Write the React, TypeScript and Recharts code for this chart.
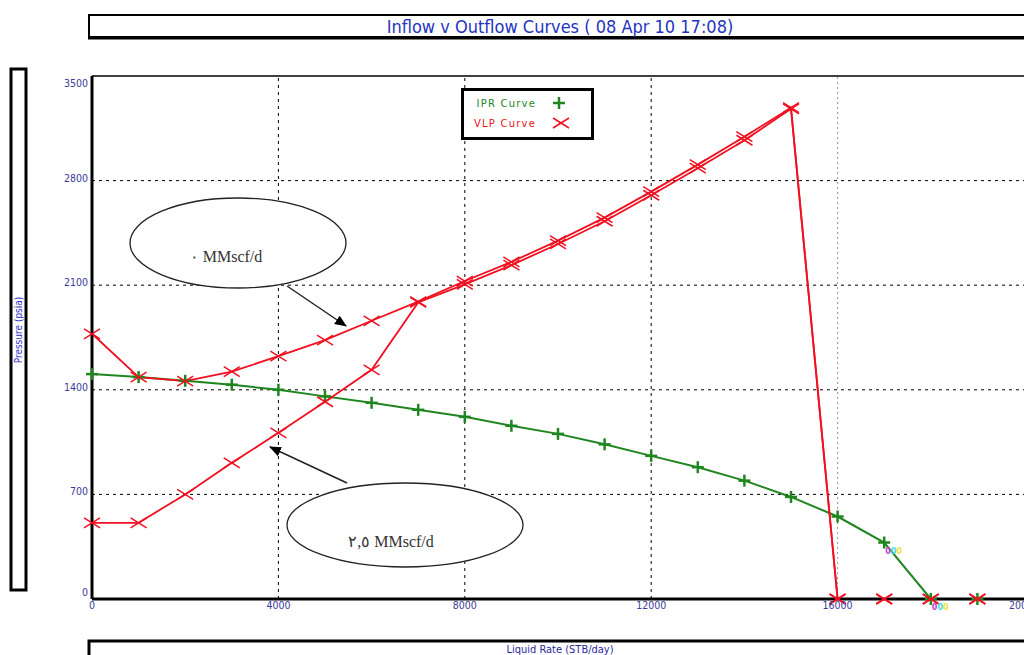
import { LineChart, Line, XAxis, YAxis, ReferenceLine, Legend, LabelList } from 'recharts';

const rates = [0, 1000, 2000, 3000, 4000, 5000, 6000, 7000, 8000, 9000, 10000, 11000, 12000, 13000, 14000, 15000, 16000, 17000, 18000, 19000];
const iprPressure = [1505, 1485, 1460, 1434, 1400, 1356, 1313, 1266, 1219, 1159, 1105, 1035, 958, 882, 792, 683, 552, 378, 0, 0];
const vlpNoGas = [1775, 1485, 1458, 1521, 1625, 1732, 1862, 1990, 2128, 2256, 2398, 2552, 2726, 2907, 3094, 3288, 0, 0, 0, 0];
const vlpGas25 = [510, 510, 700, 911, 1112, 1320, 1534, 1985, 2106, 2234, 2376, 2528, 2702, 2883, 3070, 3280, 0, 0, 0, 0];

const xTicks = [0, 4000, 8000, 12000, 16000, 20000];
const yTicks = [0, 700, 1400, 2100, 2800, 3500];
const xGrid = [4000, 8000, 12000];
const yGrid = [700, 1400, 2100, 2800];

const data = rates.map((r, i) => ({ rate: r, ipr: iprPressure[i], vlp0: vlpNoGas[i], vlp25: vlpGas25[i] }));

const GREEN = '#1f861f';
const RED = '#f01020';
const TICK = '#3a3a9c';
const NARROW = "'Liberation Sans Narrow', 'DejaVu Sans Condensed', 'Liberation Sans', sans-serif";

const PlusDot = (props: any) => {
  const { cx, cy, index } = props;
  if (cx == null || cy == null) return <g key={`p-${index}`} />;
  return (
    <g key={`p-${index}`}>
      <line x1={cx - 6} y1={cy} x2={cx + 6} y2={cy} stroke={GREEN} strokeWidth={2.5} />
      <line x1={cx} y1={cy - 6} x2={cx} y2={cy + 6} stroke={GREEN} strokeWidth={2.5} />
    </g>
  );
};

const CrossDot = (props: any) => {
  const { cx, cy, index } = props;
  if (cx == null || cy == null) return <g key={`x-${index}`} />;
  return (
    <g key={`x-${index}`}>
      <line x1={cx - 8} y1={cy - 5} x2={cx + 8} y2={cy + 5} stroke={RED} strokeWidth={1.5} />
      <line x1={cx - 8} y1={cy + 5} x2={cx + 8} y2={cy - 5} stroke={RED} strokeWidth={1.5} />
    </g>
  );
};

const YTick = (props: any) => {
  const { x, y, payload } = props;
  const v = payload.value;
  const dy = v === 3500 ? 8 : v === 0 ? -6 : -2;
  return (
    <text x={x} y={y + dy} textAnchor="end" dominantBaseline="middle" fill={TICK} fontSize={10.5} fontFamily={NARROW}>
      {v}
    </text>
  );
};

const XTick = (props: any) => {
  const { x, y, payload } = props;
  return (
    <text x={x} y={y + 8} textAnchor="middle" fill={TICK} fontSize={10.5} fontFamily={NARROW}>
      {payload.value}
    </text>
  );
};

// little multicolour tags next to the operating points
const PointTag = (props: any) => {
  const { x, y, index } = props;
  if (index !== 17 && index !== 18) return null;
  return (
    <text x={x + 1} y={y + 11} fontSize={8} fontFamily="DejaVu Sans" fontWeight="bold">
      <tspan fill="#c040d0">0</tspan>
      <tspan fill="#40d8e8">0</tspan>
      <tspan fill="#f0e040">0</tspan>
    </text>
  );
};

const LegendBox = () => (
  <div style={{ width: 133, height: 52, boxSizing: 'border-box', border: '3px solid #000', background: '#fff' }}>
    <svg width={127} height={46}>
      <text x={72} y={15.5} textAnchor="end" fill={GREEN} fontSize={10} fontFamily="DejaVu Sans" letterSpacing={1.2}>IPR Curve</text>
      <line x1={89} y1={12} x2={101} y2={12} stroke={GREEN} strokeWidth={2.5} />
      <line x1={95} y1={6} x2={95} y2={18} stroke={GREEN} strokeWidth={2.5} />
      <text x={72} y={35.5} textAnchor="end" fill={RED} fontSize={10} fontFamily="DejaVu Sans" letterSpacing={1.2}>VLP Curve</text>
      <line x1={89} y1={27} x2={105} y2={37} stroke={RED} strokeWidth={1.5} />
      <line x1={89} y1={37} x2={105} y2={27} stroke={RED} strokeWidth={1.5} />
    </svg>
  </div>
);

export default function App() {
  return (
    <div style={{ position: 'absolute', left: 0, top: 0, width: 1024, height: 655, overflow: 'hidden', background: '#fff' }}>
      <LineChart width={1070} height={655} data={data} margin={{ top: 76, right: 46, bottom: 36, left: 52 }}>
        {xGrid.map((v) => (
          <ReferenceLine key={`vx-${v}`} x={v} stroke="#000" strokeDasharray="3 4" strokeWidth={1} />
        ))}
        <ReferenceLine x={16000} stroke="#9a9a9a" strokeDasharray="2 3" strokeWidth={1} />
        {yGrid.map((v) => (
          <ReferenceLine key={`hy-${v}`} y={v} stroke="#000" strokeDasharray="3 4" strokeWidth={1} />
        ))}
        <ReferenceLine y={3500} stroke="#000" strokeWidth={1.5} />
        <XAxis
          dataKey="rate"
          type="number"
          domain={[0, 20000]}
          ticks={xTicks}
          height={20}
          tickLine={false}
          tickSize={0}
          tick={<XTick />}
          axisLine={{ stroke: '#000', strokeWidth: 3 }}
          interval={0}
        />
        <YAxis
          type="number"
          domain={[0, 3500]}
          ticks={yTicks}
          width={40}
          tickLine={false}
          tickSize={0}
          tickMargin={4}
          tick={<YTick />}
          axisLine={{ stroke: '#000', strokeWidth: 3 }}
          interval={0}
        />
        <Legend layout="vertical" align="center" verticalAlign="middle" wrapperStyle={{ left: 461, top: 88, width: 133 }} content={() => <LegendBox />} />
        <Line type="linear" dataKey="ipr" name="IPR Curve" stroke={GREEN} strokeWidth={2} dot={PlusDot} isAnimationActive={false}>
          <LabelList dataKey="ipr" content={<PointTag />} />
        </Line>
        <Line type="linear" dataKey="vlp0" name="VLP Curve" stroke={RED} strokeWidth={1.8} dot={CrossDot} isAnimationActive={false} />
        <Line type="linear" dataKey="vlp25" name="VLP Curve 2.5" legendType="none" stroke={RED} strokeWidth={1.8} dot={CrossDot} isAnimationActive={false} />
      </LineChart>

      <svg width={1024} height={655} style={{ position: 'absolute', left: 0, top: 0, pointerEvents: 'none' }}>
        <defs>
          <marker id="head" markerWidth={12} markerHeight={10} refX={11} refY={5} orient="auto" markerUnits="userSpaceOnUse">
            <path d="M0,0 L12,5 L0,10 Z" fill="#000" />
          </marker>
        </defs>
        {/* title box */}
        <rect x={89} y={15} width={960} height={22} fill="#fff" stroke="#000" strokeWidth={2} />
        <line x1={88} y1={38} x2={1024} y2={38} stroke="#000" strokeWidth={3} />
        <text x={560} y={33} textAnchor="middle" fill="#2434c0" fontSize={18} fontFamily={NARROW}>
          Inflow v Outflow Curves ( 08 Apr 10  17:08)
        </text>
        {/* y label box */}
        <rect x={11} y={69} width={15} height={521} fill="#fff" stroke="#000" strokeWidth={3} />
        <text x={0} y={0} transform="translate(22,330) rotate(-90)" textAnchor="middle" fill="#3030cc" fontSize={10} fontFamily={NARROW}>
          Pressure (psia)
        </text>
        {/* x label box */}
        <rect x={89} y={641} width={960} height={30} fill="#fff" stroke="#000" strokeWidth={3} />
        <text x={560} y={653} textAnchor="middle" fill="#2a2a9a" fontSize={11} fontFamily={NARROW}>
          Liquid Rate (STB/day)
        </text>
        {/* annotations */}
        <ellipse cx={238} cy={243} rx={108} ry={45} fill="#fff" stroke="#222" strokeWidth={1.3} />
        <text x={226} y={262} textAnchor="middle" fill="#333" fontSize={16} fontFamily="'Liberation Serif', 'DejaVu Serif', serif">
          ٠ MMscf/d
        </text>
        <line x1={287} y1={286} x2={346} y2={326} stroke="#222" strokeWidth={1.5} markerEnd="url(#head)" />
        <ellipse cx={405} cy={525} rx={118} ry={42} fill="#fff" stroke="#222" strokeWidth={1.3} />
        <text x={391} y={547} textAnchor="middle" fill="#333" fontSize={16} fontFamily="'Liberation Serif', 'DejaVu Serif', serif">
          ٢,٥ MMscf/d
        </text>
        <line x1={347} y1={483} x2={270} y2={447} stroke="#222" strokeWidth={1.5} markerEnd="url(#head)" />
      </svg>
    </div>
  );
}
